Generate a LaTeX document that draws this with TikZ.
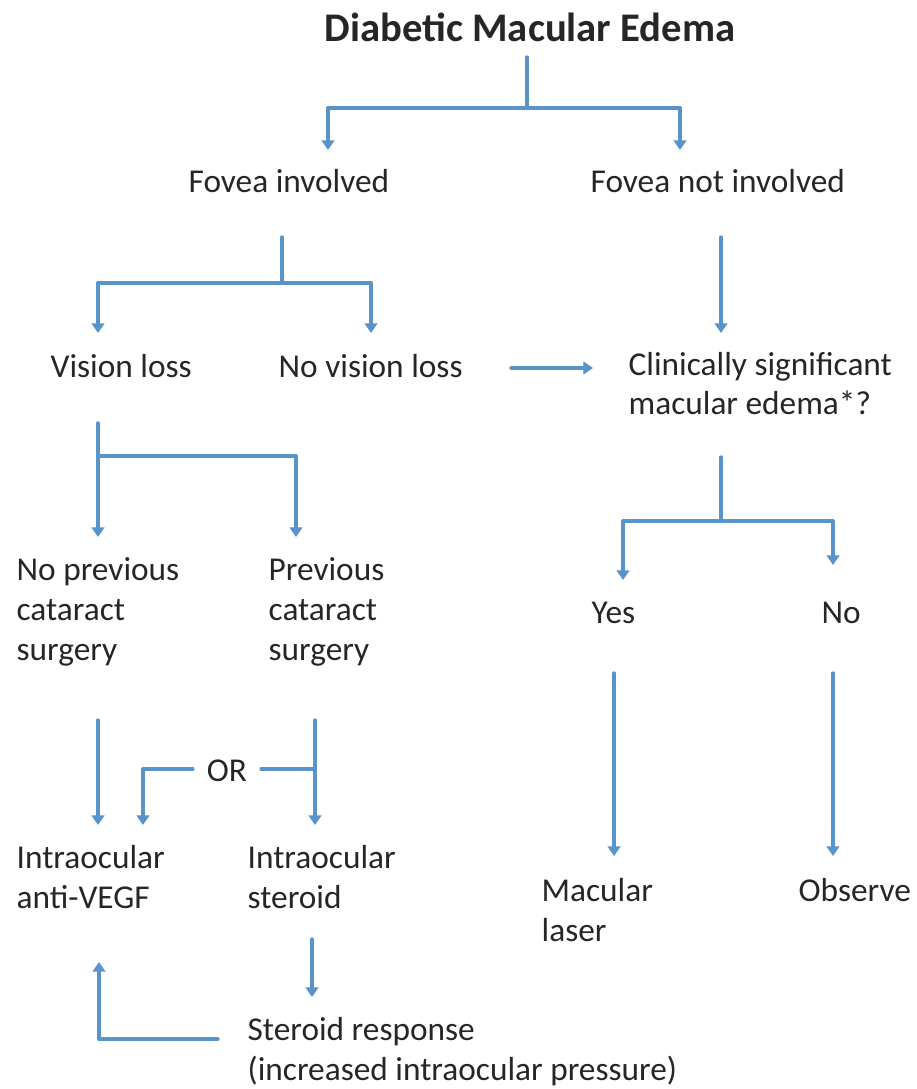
\documentclass[tikz,border=0pt]{standalone}
\usepackage{fontspec}
\setmainfont{Carlito}
\usetikzlibrary{arrows.meta}
\definecolor{flowblue}{RGB}{88,147,202}
\begin{document}
\begin{tikzpicture}[x=0.3pt,y=-0.3pt,>={Triangle[width=3.8pt,length=2.9pt]},line join=round,line cap=round,
	font=\fontsize{10}{12}\selectfont,
	every node/.style={inner sep=0pt,text=black!85},
	lbl/.style={anchor=base west,align=left},
	link/.style={draw=flowblue,line width=1pt}]
	\useasboundingbox (0,0) rectangle (916,1089);
	\node[anchor=base,font=\fontsize{12.2}{14}\selectfont\bfseries] (dme) at (530,42) {Diabetic Macular Edema};
	\node[lbl] (fi) at (188,193) {Fovea involved};
	\node[lbl] (fni) at (590,193) {Fovea not involved};
	\node[lbl] (vl) at (50,378) {Vision loss};
	\node[lbl] (nvl) at (278,378) {No vision loss};
	\node[lbl] (csme) at (628,415) {Clinically significant\\macular edema*?};
	\node[lbl] (npcs) at (16,660) {No previous\\cataract\\surgery};
	\node[lbl] (pcs) at (268,660) {Previous\\cataract\\surgery};
	\node[lbl] (yes) at (591,623) {Yes};
	\node[lbl] (no) at (821,623) {No};
	\node[anchor=base,inner sep=4pt] (or) at (227,781) {OR};
	\node[lbl] (ia) at (16,908) {Intraocular\\anti-VEGF};
	\node[lbl] (is) at (247,908) {Intraocular\\steroid};
	\node[lbl] (ml) at (541,941) {Macular\\laser};
	\node[lbl] (obs) at (798,901) {Observe};
	\node[lbl] (sr) at (247,1080) {Steroid response\\(increased intraocular pressure)};
	\coordinate (dmeout) at (527,57);
	\coordinate (dmej) at (527,108);
	\coordinate (fiin) at (328,150);
	\coordinate (fniin) at (680,150);
	\coordinate (fiout) at (282,237);
	\coordinate (fij) at (282,283);
	\coordinate (vlin) at (98,333);
	\coordinate (nvlin) at (371,333);
	\coordinate (fniout) at (721,237);
	\coordinate (csmein) at (721,333);
	\coordinate (nvlout) at (511,368);
	\coordinate (csmeleft) at (593,368);
	\coordinate (vlout) at (98,423);
	\coordinate (vlj) at (98,456);
	\coordinate (npcsin) at (98,537);
	\coordinate (pcsin) at (296,537);
	\coordinate (csmeout) at (721,457);
	\coordinate (csmej) at (721,521);
	\coordinate (yesin) at (623,580);
	\coordinate (noin) at (833,565);
	\coordinate (yesout) at (614,673);
	\coordinate (mlin) at (614,856);
	\coordinate (noout) at (833,673);
	\coordinate (obsin) at (833,856);
	\coordinate (npcsout) at (98,720);
	\coordinate (iain) at (98,825);
	\coordinate (pcsout) at (315,720);
	\coordinate (orj) at (315,769);
	\coordinate (isin) at (315,825);
	\coordinate (iaor) at (143,825);
	\coordinate (isout) at (312,939);
	\coordinate (srin) at (312,997);
	\coordinate (srleft) at (218,1039);
	\coordinate (iaback) at (99,962);
	\draw[link] (dmeout) -- (dmej);
	\draw[link,->] (dmej) -| (fiin);
	\draw[link,->] (dmej) -| (fniin);
	\draw[link] (fiout) -- (fij);
	\draw[link,->] (fij) -| (vlin);
	\draw[link,->] (fij) -| (nvlin);
	\draw[link,->] (fniout) -- (csmein);
	\draw[link,->] (nvlout) -- (csmeleft);
	\draw[link] (vlout) -- (vlj);
	\draw[link,->] (vlj) -- (npcsin);
	\draw[link,->] (vlj) -| (pcsin);
	\draw[link] (csmeout) -- (csmej);
	\draw[link,->] (csmej) -| (yesin);
	\draw[link,->] (csmej) -| (noin);
	\draw[link,->] (yesout) -- (mlin);
	\draw[link,->] (noout) -- (obsin);
	\draw[link,->] (npcsout) -- (iain);
	\draw[link,->] (pcsout) -- (isin);
	\draw[link] (orj) -- (orj -| or.east);
	\draw[link,->] (orj -| or.west) -| (iaor);
	\draw[link,->] (isout) -- (srin);
	\draw[link,->] (srleft) -| (iaback);
\end{tikzpicture}
\end{document}
